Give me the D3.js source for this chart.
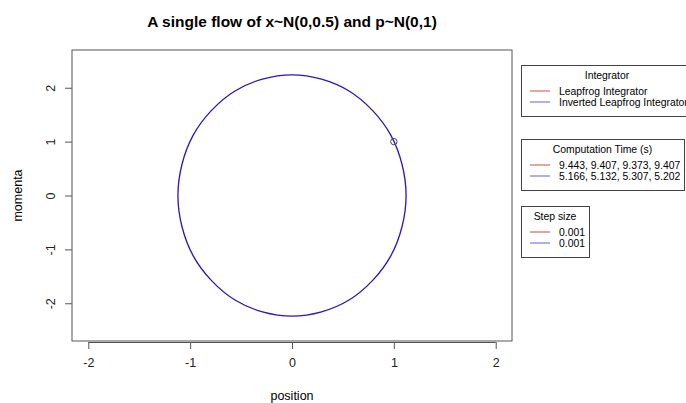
<!DOCTYPE html>
<html>
<head>
<meta charset="utf-8">
<script src="https://cdn.jsdelivr.net/npm/d3@7"></script>
<style>
  body { margin: 0; background: #fff; }
  svg { font-family: "Liberation Sans", Arial, Helvetica, sans-serif; }
  .axis path, .axis line { stroke: #555; }
  .axis text { font-size: 12.5px; fill: #222; }
</style>
</head>
<body>
<div id="chart"></div>
<script>
// Trajectory (one closed loop in phase space)
const position = [1.12, 1.08, 0.97, 0.79, 0.56, 0.29, 0.00, -0.29, -0.56, -0.79, -0.97, -1.08,
                  -1.12, -1.08, -0.97, -0.79, -0.56, -0.29, 0.00, 0.29, 0.56, 0.79, 0.97, 1.08];
const momenta  = [0.00, 0.58, 1.12, 1.58, 1.94, 2.16, 2.24, 2.16, 1.94, 1.58, 1.12, 0.58,
                  0.00, -0.58, -1.12, -1.58, -1.94, -2.16, -2.24, -2.16, -1.94, -1.58, -1.12, -0.58];
const startPoint = [1, 1];

const xTicks = [-2, -1, 0, 1, 2];
const yTicks = [-2, -1, 0, 1, 2];

const integrators = ["Leapfrog Integrator", "Inverted Leapfrog Integrator"];
const compTimes = ["9.443, 9.407, 9.373, 9.407", "5.166, 5.132, 5.307, 5.202"];
const stepSizes = ["0.001", "0.001"];
const legendColors = ["#d66a6a", "#7a7aea"];

const W = 686, H = 403;
const margin = { top: 50, right: 174, bottom: 62, left: 72 };
const width = W - margin.left - margin.right;
const height = H - margin.top - margin.bottom;

const svg = d3.select("#chart").append("svg")
    .attr("width", W)
    .attr("height", H);

const g = svg.append("g")
    .attr("transform", `translate(${margin.left}, ${margin.top})`);

// R style 4% padding around xlim = c(-2, 2), ylim = c(-2.5, 2.5)
const xScale = d3.scaleLinear().domain([-2.16, 2.16]).range([0, width]);
const yScale = d3.scaleLinear().domain([-2.7, 2.7]).range([height, 0]);

// Plot box
g.append("rect")
    .attr("width", width)
    .attr("height", height)
    .attr("fill", "none")
    .attr("stroke", "#555");

// Axes (R uses a plain hyphen for minus)
const fmt = d => String(d);

const xAxis = g.append("g")
    .attr("class", "axis")
    .attr("transform", `translate(0, ${height + 1})`)
    .call(d3.axisBottom(xScale).tickValues(xTicks).tickSize(7).tickPadding(9).tickFormat(fmt));
xAxis.select(".domain").attr("d", `M${xScale(-2)},0.5H${xScale(2)}`);

const yAxis = g.append("g")
    .attr("class", "axis")
    .call(d3.axisLeft(yScale).tickValues(yTicks).tickSize(7).tickPadding(0).tickFormat(fmt));
yAxis.select(".domain").remove();
yAxis.selectAll(".tick text")
    .attr("x", 0)
    .attr("dy", null)
    .attr("text-anchor", "middle")
    .attr("transform", "translate(-20,0) rotate(-90)")
    .attr("dominant-baseline", "middle");

// Trajectory
const pts = position.map((x, i) => [x, momenta[i]]);
const line = d3.line()
    .x(d => xScale(d[0]))
    .y(d => yScale(d[1]))
    .curve(d3.curveCatmullRomClosed);

g.append("path")
    .datum(pts)
    .attr("d", line)
    .attr("fill", "none")
    .attr("stroke", "#2e16b0")
    .attr("stroke-width", 1.3);

// Starting point
g.append("circle")
    .attr("cx", xScale(startPoint[0]))
    .attr("cy", yScale(startPoint[1]))
    .attr("r", 3.2)
    .attr("fill", "none")
    .attr("stroke", "#444")
    .attr("stroke-width", 1);

// Title
svg.append("text")
    .attr("x", margin.left + width / 2)
    .attr("y", 27)
    .attr("text-anchor", "middle")
    .style("font-size", "15.5px")
    .style("font-weight", "bold")
    .text("A single flow of x~N(0,0.5) and p~N(0,1)");

// Axis labels
svg.append("text")
    .attr("x", margin.left + width / 2)
    .attr("y", 400)
    .attr("text-anchor", "middle")
    .style("font-size", "12.5px")
    .text("position");

svg.append("text")
    .attr("transform", `translate(22, ${yScale(0) + margin.top}) rotate(-90)`)
    .attr("text-anchor", "middle")
    .style("font-size", "12.5px")
    .text("momenta");

// Legends
function drawLegend(x, y, w, title, labels) {
    const lg = svg.append("g").attr("transform", `translate(${x}, ${y})`);
    lg.append("rect")
        .attr("x", 0.5).attr("y", 0.5)
        .attr("width", w).attr("height", 51)
        .attr("fill", "#fff")
        .attr("stroke", "#444");
    lg.append("text")
        .attr("x", w / 2)
        .attr("y", 14)
        .attr("text-anchor", "middle")
        .style("font-size", "10.4px")
        .text(title);
    labels.forEach((lab, i) => {
        const ly = 26 + i * 11;
        lg.append("line")
            .attr("x1", 9).attr("x2", 29)
            .attr("y1", ly).attr("y2", ly)
            .attr("stroke", legendColors[i])
            .attr("stroke-width", 1.2);
        lg.append("text")
            .attr("x", 38)
            .attr("y", ly + 3.7)
            .style("font-size", "10.4px")
            .text(lab);
    });
}

drawLegend(521, 65, 172, "Integrator", integrators);
drawLegend(521, 139, 163, "Computation Time (s)", compTimes);
drawLegend(521, 206, 68, "Step size", stepSizes);
</script>
</body>
</html>
